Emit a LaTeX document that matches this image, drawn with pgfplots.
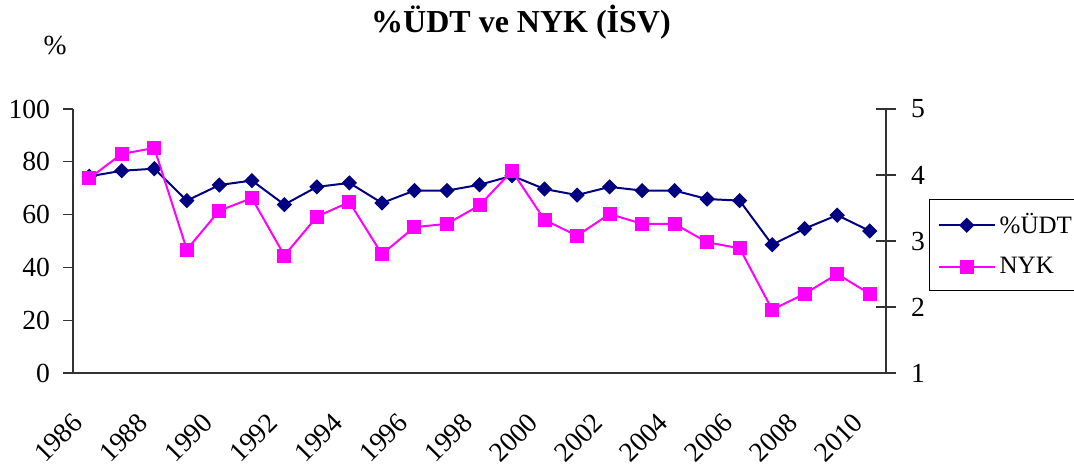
\documentclass[border=0pt]{standalone}
\usepackage{fontspec}
\setmainfont{Liberation Serif}
\usepackage{pgfplots}
\pgfplotsset{compat=1.18}
\definecolor{udt}{RGB}{0,0,128}
\definecolor{nyk}{RGB}{255,0,255}
\newcommand{\tickfont}{\fontsize{13.8}{16}\selectfont}
\begin{document}
\begin{tikzpicture}
\useasboundingbox (-36.5pt,-50pt) rectangle (500.5pt,186.5pt);
\begin{axis}[
  scale only axis, width=406.5pt, height=132pt,
  at={(0,0)}, anchor=south west,
  xmin=-0.5, xmax=24.5, ymin=0, ymax=100,
  axis x line*=bottom, axis y line*=left,
  axis line style={-, line width=0.6pt, black!80},
  xtick={0,2,...,24},
  xticklabels={1986,1988,1990,1992,1994,1996,1998,2000,2002,2004,2006,2008,2010},
  xtick style={draw=none},
  minor xtick={-0.5,0.5,...,24.5},
  ytick={0,20,...,100},
  tick align=outside, major tick length=5pt, minor tick length=5pt,
  every tick/.style={black!80, line width=0.6pt},
  /pgf/number format/assume math mode=true,
  yticklabel style={font=\tickfont, xshift=-3pt},
  xticklabel style={font=\tickfont, xshift=-9pt, yshift=-14pt, rotate=45, anchor=north east, inner sep=0pt},
  clip=false,
]
\addplot[udt, line width=1pt, mark=square*, mark size=2.2pt, mark options={rotate=45, fill=udt, draw=udt}]
coordinates {
(0,74.5)(1,76.6)(2,77.4)(3,65.3)(4,71.2)(5,72.9)(6,63.8)(7,70.5)(8,72.0)(9,64.4)
(10,69.1)(11,69.1)(12,71.3)(13,74.7)(14,69.7)(15,67.4)(16,70.5)(17,69.1)(18,69.1)
(19,65.9)(20,65.3)(21,48.6)(22,54.7)(23,59.8)(24,53.8)};
\end{axis}
\begin{axis}[
  scale only axis, width=406.5pt, height=132pt,
  at={(0,0)}, anchor=south west,
  xmin=-0.5, xmax=24.5, ymin=1, ymax=5,
  axis x line=none, axis y line*=right,
  axis line style={-, line width=0.6pt, black!80},
  ytick={1,2,3,4,5},
  ytick align=center, major tick length=10pt,
  every tick/.style={black!80, line width=0.6pt},
  /pgf/number format/assume math mode=true,
  yticklabel style={font=\tickfont, xshift=4pt},
  clip=false,
  legend style={at={(1.053,0.659)}, anchor=north west, draw=black, line width=0.6pt,
    font=\fontsize{12.5}{15}\selectfont, row sep=6pt, inner xsep=4pt, inner ysep=5pt,
    /tikz/every even column/.append style={column sep=2pt}},
  legend cell align=left,
  legend image code/.code={\draw[mark repeat=2, mark phase=2, #1] plot coordinates {(0pt,0pt) (14pt,0pt) (28pt,0pt)};},
]
\addlegendimage{udt, line width=1pt, mark=square*, mark size=2.2pt, mark options={rotate=45, fill=udt, draw=udt}}
\addlegendentry{\%ÜDT}
\addplot[nyk, line width=1pt, mark=square*, mark size=3pt, mark options={fill=nyk, draw=nyk}]
coordinates {
(0,3.95)(1,4.32)(2,4.41)(3,2.87)(4,3.46)(5,3.65)(6,2.78)(7,3.37)(8,3.59)(9,2.80)
(10,3.21)(11,3.26)(12,3.54)(13,4.06)(14,3.32)(15,3.08)(16,3.41)(17,3.26)(18,3.26)
(19,2.98)(20,2.89)(21,1.96)(22,2.20)(23,2.50)(24,2.20)};
\addlegendentry{NYK}
\end{axis}
\node[font=\bfseries\fontsize{16}{19}\selectfont] at (224pt,175.5pt) {\%ÜDT ve NYK (İSV)};
\node[font=\tickfont] at (-9pt,164pt) {\%};
\end{tikzpicture}
\end{document}
